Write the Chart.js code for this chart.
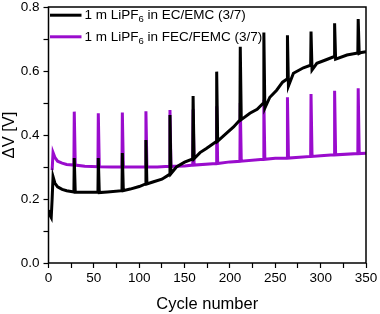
<!DOCTYPE html>
<html>
<head>
<meta charset="utf-8">
<script src="https://cdn.jsdelivr.net/npm/chart.js@4"></script>
<style>
html,body{margin:0;padding:0;background:#fff;}
#wrap{width:380px;height:314px;position:relative;}
</style>
</head>
<body>
<div id="wrap"><canvas id="c" width="380" height="314"></canvas></div>
<script>
// ---- data ----
const seriesLabels = ["1 m LiPF₆ in EC/EMC (3/7)", "1 m LiPF₆ in FEC/FEMC (3/7)"];
const xTickLabels = [0, 50, 100, 150, 200, 250, 300, 350];
const yTickLabels = ["0.0", "0.2", "0.4", "0.6", "0.8"];

// cycles where the check-up spikes occur
const spikeCycles = [28, 54.5, 81, 107, 133.5, 159, 185, 211, 237, 263, 289, 315, 341];

// black: EC/EMC
const blackCycles = [0, 1.5, 3, 4, 5, 7, 10, 15, 20, 40, 65, 90, 100, 115, 125, 141, 150, 167, 174, 196, 204, 222, 230, 244, 251.5, 258, 270, 281, 295.8, 306.8, 329, 345, 350];
const blackValues = [0.165, 0.15, 0.142, 0.2, 0.27, 0.25, 0.238, 0.23, 0.226, 0.221, 0.222, 0.231, 0.239, 0.253, 0.262, 0.300, 0.315, 0.345, 0.358, 0.405, 0.425, 0.468, 0.48, 0.518, 0.54, 0.565, 0.593, 0.61, 0.624, 0.636, 0.65, 0.658, 0.66];
const blackSpikeBase  = [0.222, 0.221, 0.226, 0.247, 0.277, 0.325, 0.38, 0.447, 0.50, 0.575, 0.618, 0.645, 0.656];
const blackSpikeTop   = [0.328, 0.328, 0.344, 0.384, 0.4625, 0.522, 0.598, 0.676, 0.72, 0.712, 0.723, 0.749, 0.7625];
const blackSpikeAfter = [0.221, 0.220, 0.226, 0.247, 0.279, 0.326, 0.381, 0.448, 0.484, 0.553, 0.603, 0.637, 0.655];

// purple: FEC/FEMC
const purpleCycles = [4, 5, 7, 10, 15, 20, 40, 70, 120, 150, 200, 250, 300, 350];
const purpleValues = [0.29, 0.345, 0.33, 0.318, 0.312, 0.308, 0.302, 0.300, 0.300, 0.303, 0.316, 0.327, 0.335, 0.343];
const purpleSpikeBase  = [0.306, 0.301, 0.300, 0.300, 0.302, 0.306, 0.311, 0.318, 0.324, 0.328, 0.333, 0.338, 0.342];
const purpleSpikeTop   = [0.473, 0.468, 0.47, 0.474, 0.478, 0.48, 0.49, 0.50, 0.51, 0.518, 0.528, 0.538, 0.546];
const purpleSpikeAfter = [0.306, 0.301, 0.300, 0.300, 0.302, 0.306, 0.311, 0.318, 0.324, 0.328, 0.333, 0.338, 0.342];

// ---- build point lists ----
function buildSeries(cx, cy, base, top, after) {
  const pts = cx.map((x, i) => ({x: x, y: cy[i]}));
  spikeCycles.forEach((c, i) => {
    pts.push({x: c, y: base[i]});
    pts.push({x: c + 0.4, y: top[i]});
    pts.push({x: c + 1.5, y: after[i]});
  });
  pts.sort((a, b) => a.x - b.x);
  return pts;
}
const blackData = buildSeries(blackCycles, blackValues, blackSpikeBase, blackSpikeTop, blackSpikeAfter);
const purpleData = buildSeries(purpleCycles, purpleValues, purpleSpikeBase, purpleSpikeTop, purpleSpikeAfter);

const FONT = "'Liberation Sans', Arial, sans-serif";
const BLACK = '#000000';
const PURPLE = '#9a0ccd';

const boxPlugin = {
  id: 'box',
  afterDraw(chart) {
    const {ctx, chartArea: a} = chart;
    ctx.save();
    ctx.strokeStyle = '#000';
    ctx.lineWidth = 1.5;
    ctx.strokeRect(a.left, a.top, a.right - a.left, a.bottom - a.top);
    ctx.restore();
  }
};

const legendPlugin = {
  id: 'inlegend',
  afterDraw(chart) {
    const {ctx, chartArea: a} = chart;
    const rows = [a.top + 8.2, a.top + 29.8];
    ctx.save();
    chart.data.datasets.forEach((ds, i) => {
      const y = rows[i];
      ctx.strokeStyle = ds.borderColor;
      ctx.lineWidth = 3;
      ctx.beginPath();
      ctx.moveTo(a.left + 1.5, y);
      ctx.lineTo(a.left + 33, y);
      ctx.stroke();
      ctx.fillStyle = '#000';
      ctx.textBaseline = 'middle';
      let x = a.left + 36;
      const parts = ds.label.split('₆');
      parts.forEach((p, k) => {
        ctx.font = '13.5px ' + FONT;
        ctx.fillText(p, x, y);
        x += ctx.measureText(p).width;
        if (k < parts.length - 1) {
          ctx.font = '9.5px ' + FONT;
          ctx.fillText('6', x, y + 4.5);
          x += ctx.measureText('6').width;
        }
      });
    });
    ctx.restore();
  }
};

new Chart(document.getElementById('c'), {
  type: 'line',
  data: {
    datasets: [
      {label: seriesLabels[0], data: blackData, borderColor: BLACK, borderWidth: 3, pointRadius: 0, tension: 0, fill: false},
      {label: seriesLabels[1], data: purpleData, borderColor: PURPLE, borderWidth: 3, pointRadius: 0, tension: 0, fill: false}
    ]
  },
  options: {
    responsive: false,
    animation: false,
    devicePixelRatio: 1,
    layout: {padding: {left: 0, right: 14, top: 7, bottom: 0}},
    plugins: {legend: {display: false}, tooltip: {enabled: false}},
    scales: {
      x: {
        type: 'linear', min: 0, max: 350,
        afterFit(s) { s.height = 51; },
        ticks: {
          stepSize: 25, color: '#000', padding: 2, maxRotation: 0, autoSkip: false,
          font: {family: FONT, size: 13.5},
          callback: (v) => xTickLabels.includes(v) ? String(v) : ''
        },
        grid: {display: true, drawOnChartArea: false, drawTicks: true, tickLength: 5, tickColor: '#000', tickWidth: 1.2},
        border: {display: false},
        title: {display: true, text: 'Cycle number', color: '#000', font: {family: FONT, size: 16.5}, padding: {top: 7, bottom: 0}}
      },
      y: {
        type: 'linear', min: 0, max: 0.8,
        afterFit(s) { s.width = 48.5; s.paddingTop = 0; s.paddingBottom = 0; },
        ticks: {
          stepSize: 0.1, color: '#000', padding: 4, autoSkip: false,
          font: {family: FONT, size: 13.5},
          callback: (v) => {
            const k = Math.round(v * 10);
            return k % 2 === 0 ? yTickLabels[k / 2] : '';
          }
        },
        grid: {display: true, drawOnChartArea: false, drawTicks: true, tickLength: 5, tickColor: '#000', tickWidth: 1.2},
        border: {display: false},
        title: {display: true, text: 'ΔV [V]', color: '#000', font: {family: FONT, size: 16.5}, padding: {top: 0, bottom: 2}}
      }
    }
  },
  plugins: [boxPlugin, legendPlugin]
});
</script>
</body>
</html>
